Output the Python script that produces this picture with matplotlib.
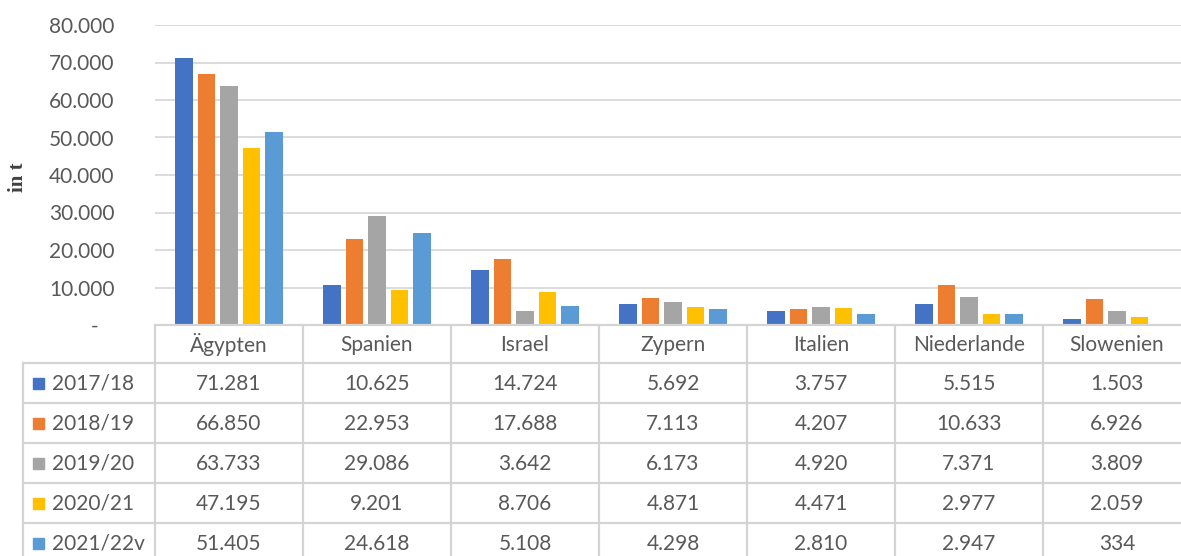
import matplotlib.pyplot as plt
import numpy as np
from matplotlib.ticker import FuncFormatter
from matplotlib.patches import Rectangle

# Daten
laender = ["Ägypten", "Spanien", "Israel", "Zypern", "Italien", "Niederlande", "Slowenien"]
jahre = ["2017/18", "2018/19", "2019/20", "2020/21", "2021/22v"]
w_2017 = [71281, 10625, 14724, 5692, 3757, 5515, 1503]
w_2018 = [66850, 22953, 17688, 7113, 4207, 10633, 6926]
w_2019 = [63733, 29086, 3642, 6173, 4920, 7371, 3809]
w_2020 = [47195, 9201, 8706, 4871, 4471, 2977, 2059]
w_2021 = [51405, 24618, 5108, 4298, 2810, 2947, 334]
werte = [w_2017, w_2018, w_2019, w_2020, w_2021]
farben = ["#4472C4", "#ED7D31", "#A5A5A5", "#FFC000", "#5B9BD5"]

TXT = "#595959"
LINIE = "#d4d4d4"
FONT = "Lato"
FS = 15

W, H = 1181, 556
fig = plt.figure(figsize=(W / 100, H / 100), dpi=100)

# Spaltenbreite in Pixel (eine Kategorie)
col_px = 148
x0_px = 155
right_px = x0_px + col_px * len(laender)

def fmt(v):
    return f"{v:,.0f}".replace(",", ".")

# Diagramm
ax = fig.add_axes([x0_px / W, 1 - 325 / H, (right_px - x0_px) / W, 300 / H])
x = np.arange(len(laender))
step = 0.152
bw = 0.118
for i, (serie, farbe) in enumerate(zip(werte, farben)):
    ax.bar(x + (i - 2) * step, serie, width=bw, color=farbe, zorder=3)

ax.set_xlim(-0.5, len(laender) - 0.5)
ax.set_ylim(0, 80000)
ax.set_yticks(np.arange(0, 80001, 10000))
ax.yaxis.set_major_formatter(FuncFormatter(lambda v, p: "-   " if v == 0 else fmt(v)))
ax.set_xticks([])
ax.tick_params(axis="y", length=0, pad=29, labelsize=FS, labelcolor=TXT)
for lab in ax.get_yticklabels():
    lab.set_fontfamily(FONT)
ax.grid(axis="y", color="#d9d9d9", linewidth=1.3, zorder=0)
for s in ax.spines.values():
    s.set_visible(False)
fig.text(18 / W, 1 - 177 / H, "in t", rotation=90, ha="center", va="center",
         fontsize=15, fontweight="bold", family="Liberation Serif", color="#404040")

# Datentabelle
leg_px = 23
tab_h = 238
tx = fig.add_axes([leg_px / W, 1 - (325 + tab_h) / H, (right_px - leg_px) / W, tab_h / H])
x_links = -0.5 - (x0_px - leg_px) / col_px
tx.set_xlim(x_links, len(laender) - 0.5)
tx.set_ylim(tab_h, 0)
tx.axis("off")

kopf = 38
zeile = 40
# Linien
tx.plot([-0.5, len(laender) - 0.5], [0, 0], color=LINIE, lw=1.6, clip_on=False)
for r in range(len(jahre) + 1):
    y = kopf + r * zeile
    tx.plot([x_links, len(laender) - 0.5], [y, y], color=LINIE, lw=1.6, clip_on=False)
for k in range(len(laender) + 1):
    tx.plot([k - 0.5, k - 0.5], [0, tab_h], color=LINIE, lw=1.6, clip_on=False)
tx.plot([x_links, x_links], [kopf, tab_h], color=LINIE, lw=1.6, clip_on=False)

# Kopfzeile
for k, land in enumerate(laender):
    tx.text(k, kopf / 2 + 1, land, ha="center", va="center", fontsize=FS,
            color=TXT, family=FONT)

# Zeilen
for r, (jahr, serie, farbe) in enumerate(zip(jahre, werte, farben)):
    yc = kopf + r * zeile + zeile / 2 + 1
    tx.add_patch(Rectangle((x_links + 10 / col_px, yc - 6), 11 / col_px, 11,
                           color=farbe, clip_on=False))
    tx.text(x_links + 29 / col_px, yc, jahr, ha="left", va="center", fontsize=FS,
            color=TXT, family=FONT)
    for k, v in enumerate(serie):
        tx.text(k, yc, fmt(v), ha="center", va="center", fontsize=FS,
                color=TXT, family=FONT)

fig.savefig("out.png", dpi=100, facecolor="white")
